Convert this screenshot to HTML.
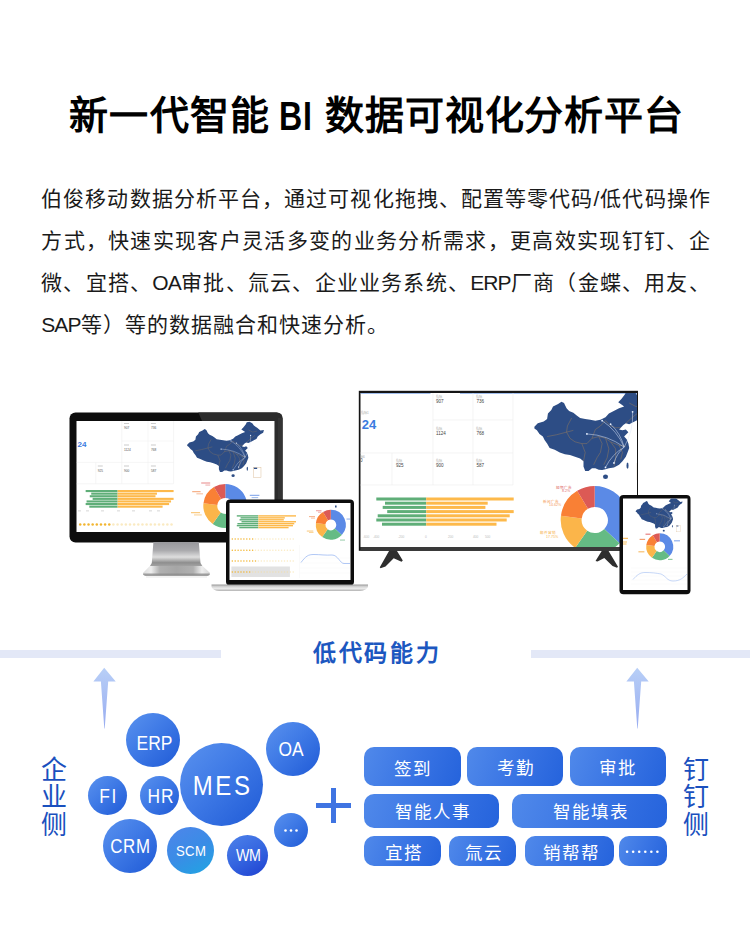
<!DOCTYPE html>
<html lang="zh-CN"><head><meta charset="utf-8">
<style>
*{margin:0;padding:0;box-sizing:border-box}
html,body{width:750px;height:941px;overflow:hidden;background:#fff;font-family:"Liberation Sans",sans-serif}
.abs{position:absolute}
.tt{position:absolute;top:88px;font-size:39px;font-weight:bold;color:#000;line-height:56px;letter-spacing:0.9px;white-space:nowrap}
#para{position:absolute;left:41.2px;top:178.4px;width:669.5px;font-size:21px;line-height:42px;color:#1a1a1a;letter-spacing:1px}
.jl{text-align:justify;text-align-last:justify;white-space:nowrap}
.lt{letter-spacing:-0.9px}
.bub{position:absolute;border-radius:50%;display:flex;align-items:center;justify-content:center;color:#fff;background:linear-gradient(135deg,#5a92ee 0%,#3f7ae6 45%,#1f5ad6 100%)}
.gc{background:linear-gradient(150deg,#4f85ea 0%,#3a8ce6 50%,#1ea6e2 100%)}
.gd{background:linear-gradient(150deg,#4e82ea 0%,#3566e0 50%,#1e3fd0 100%)}
.pill{position:absolute;border-radius:10px;display:flex;align-items:center;justify-content:center;color:#fff;font-weight:500;background:linear-gradient(110deg,#5089ea 0%,#3a75e4 50%,#2563dc 100%)}
.vt{position:absolute;font-size:26px;line-height:27.5px;color:#1a50be;width:30px;text-align:center}
</style></head>
<body>
<div class="tt" style="left:69px;letter-spacing:1.25px">新一代智能</div><div class="tt" style="left:278.8px;top:88px;font-size:41.5px;letter-spacing:1px;transform-origin:0 0;transform:scaleX(0.774)">BI</div><div class="tt" style="left:325px">数据可视化分析平台</div>
<div id="para"><div class="jl">伯俊移动数据分析平台，通过可视化拖拽、配置等零代码/低代码操作</div><div class="jl">方式，快速实现客户灵活多变的业务分析需求，更高效实现钉钉、企</div><div class="jl">微、宜搭、<span class="lt">OA</span>审批、氚云、企业业务系统、<span class="lt">ERP</span>厂商（金蝶、用友、</div><div><span class="lt">SAP</span>等）等的数据融合和快速分析。</div></div>
<svg class="abs" style="left:0;top:0" width="750" height="941" viewBox="0 0 750 941"><rect x="69.5" y="412.5" width="213" height="130" rx="6" fill="#0d0d0d"/><path d="M198.3,412.5 L276.5,412.5 Q282.5,412.5 282.5,418.5 L282.5,536.5 L274.4,536.5 L274.4,421 L202,421 Z" fill="#2c2c2c"/><rect x="278" y="418" width="4.5" height="118" fill="#3a3a3a" opacity="0.6"/><rect x="76.5" y="421" width="198" height="111" fill="#fff"/><defs><linearGradient id="silv" x1="0" y1="0" x2="1" y2="0"><stop offset="0" stop-color="#dcdcdc"/><stop offset="0.12" stop-color="#eeeeee"/><stop offset="0.25" stop-color="#b0b0b0"/><stop offset="0.5" stop-color="#a6a6a6"/><stop offset="0.75" stop-color="#b0b0b0"/><stop offset="0.88" stop-color="#eeeeee"/><stop offset="1" stop-color="#d4d4d4"/></linearGradient><linearGradient id="silvv" x1="0" y1="0" x2="0" y2="1"><stop offset="0" stop-color="#98989c"/><stop offset="0.35" stop-color="#ababae"/><stop offset="0.62" stop-color="#dedede"/><stop offset="0.85" stop-color="#8e8e8e"/><stop offset="1" stop-color="#a4a4a4"/></linearGradient><linearGradient id="base" x1="0" y1="0" x2="0" y2="1"><stop offset="0" stop-color="#9a9a9a"/><stop offset="0.35" stop-color="#d8d8d8"/><stop offset="0.7" stop-color="#eeeeee"/><stop offset="1" stop-color="#9a9a9a"/></linearGradient><clipPath id="tvclip"><rect x="360.5" y="393" width="276.5" height="154"/></clipPath><clipPath id="monclip"><rect x="76.5" y="421" width="198" height="111"/></clipPath><clipPath id="lapclip"><rect x="229.5" y="503" width="121" height="77"/></clipPath><clipPath id="tabclip"><rect x="623" y="498.5" width="64.5" height="91.5"/></clipPath></defs><polygon points="153.4,542 198.8,542 200.5,563 202.5,566.3 149.8,566.3 151.8,563" fill="url(#silvv)"/><path d="M149.8,566 L202.5,566 L209.3,572.3 Q210.8,574 209,575.2 L144,575.2 Q142.2,574 143.7,572.3 Z" fill="url(#silv)"/><path d="M143.2,573.6 L209.6,573.6 Q210.4,575.6 207.5,576 L145.5,576 Q142.6,575.6 143.2,573.6 Z" fill="#8c8c8c" opacity="0.8"/><rect x="146" y="576.2" width="61" height="1.5" fill="#efefef"/><g clip-path="url(#monclip)"><g stroke="#ececec" stroke-width="0.5"><line x1="121.8" y1="421" x2="121.8" y2="483.8"/><line x1="148" y1="421" x2="148" y2="483.8"/><line x1="173.6" y1="421" x2="173.6" y2="483.8"/><line x1="95.8" y1="462.4" x2="95.8" y2="483.8"/><line x1="121.8" y1="441" x2="173.6" y2="441"/><line x1="76.5" y1="462.4" x2="173.6" y2="462.4"/><line x1="76.5" y1="483.8" x2="173.6" y2="483.8"/></g><text x="77.6" y="446.6" font-size="8" font-weight="bold" fill="#3b7be0" font-family="Liberation Sans">24</text><rect x="124" y="423" width="5" height="1" fill="#ccc"/><text x="124" y="429" font-size="3.2" fill="#555" font-family="Liberation Sans">907</text><rect x="150.9" y="423" width="5" height="1" fill="#ccc"/><text x="150.9" y="429" font-size="3.2" fill="#555" font-family="Liberation Sans">736</text><rect x="124" y="444.5" width="5" height="1" fill="#ccc"/><text x="124" y="450.5" font-size="3.2" fill="#555" font-family="Liberation Sans">1124</text><rect x="150.9" y="444.5" width="5" height="1" fill="#ccc"/><text x="150.9" y="450.5" font-size="3.2" fill="#555" font-family="Liberation Sans">768</text><rect x="97.8" y="465.5" width="5" height="1" fill="#ccc"/><text x="97.8" y="471.5" font-size="3.2" fill="#555" font-family="Liberation Sans">925</text><rect x="124" y="465.5" width="5" height="1" fill="#ccc"/><text x="124" y="471.5" font-size="3.2" fill="#555" font-family="Liberation Sans">900</text><rect x="150.9" y="465.5" width="5" height="1" fill="#ccc"/><text x="150.9" y="471.5" font-size="3.2" fill="#555" font-family="Liberation Sans">587</text><polygon points="187.19,444.70 189.37,442.51 193.20,441.42 195.39,439.78 195.93,436.50 198.12,434.31 199.21,432.12 202.49,430.48 204.68,429.06 206.32,429.93 207.96,433.22 209.60,434.86 212.33,435.95 214.52,437.59 216.71,439.23 219.99,439.78 223.27,440.32 226.55,440.87 229.83,440.32 233.11,438.68 235.29,436.50 237.48,435.40 241.85,433.22 245.13,432.12 242.95,430.48 241.31,429.39 243.49,427.20 245.68,424.47 246.77,422.28 249.51,421.73 252.24,423.37 253.88,425.56 257.16,427.75 260.44,430.48 263.94,429.93 263.17,432.67 260.44,434.31 257.71,436.50 256.61,438.68 253.88,440.32 250.60,441.96 248.41,443.06 246.23,442.51 244.59,443.60 242.95,445.24 241.85,446.34 244.04,446.88 246.23,446.34 247.87,447.98 246.23,449.62 245.13,450.71 246.77,452.35 247.87,455.08 248.41,457.82 247.32,460.55 246.23,463.29 244.04,466.02 241.85,468.21 238.57,469.85 235.29,470.39 233.11,470.94 230.92,471.49 228.73,471.27 226.55,470.39 224.36,470.39 222.17,472.03 219.99,472.03 218.89,469.30 218.89,466.02 216.71,464.38 213.43,463.29 210.15,462.19 206.87,461.65 203.59,460.55 200.31,458.91 197.03,457.82 195.39,455.08 193.75,452.90 192.65,450.71 190.47,449.07 188.83,446.88 187.19,445.79" fill="#2d4d85"/><ellipse cx="233.11" cy="475.64" rx="1.64" ry="1.42" fill="#2d4d85"/><ellipse cx="247.32" cy="468.75" rx="0.66" ry="1.97" fill="#2d4d85"/><rect x="253.55" y="467.33" width="7.43" height="10.17" fill="none" stroke="#d8b890" stroke-width="0.44"/><rect x="253.88" y="467.66" width="3.28" height="1.31" fill="#2d4d85"/><polyline points="195.39,450.71 201.40,449.62 207.96,447.98 212.33,446.88" fill="none" stroke="#a08058" stroke-width="0.38" opacity="0.75"/><polyline points="211.24,439.23 208.51,444.15 207.96,447.98 210.15,451.80 213.43,453.99 217.80,455.08 221.08,455.08" fill="none" stroke="#a08058" stroke-width="0.38" opacity="0.75"/><polyline points="217.80,455.08 219.99,460.55 218.89,466.02" fill="none" stroke="#a08058" stroke-width="0.38" opacity="0.75"/><polyline points="221.08,455.08 224.36,451.80 228.73,450.71 233.11,451.80 236.39,453.99 241.85,456.18 246.23,456.72" fill="none" stroke="#a08058" stroke-width="0.38" opacity="0.75"/><polyline points="224.36,451.80 226.55,446.34 229.83,444.15 233.11,440.87" fill="none" stroke="#a08058" stroke-width="0.38" opacity="0.75"/><polyline points="228.73,450.71 230.92,455.08 229.83,460.55 227.64,463.83 225.45,468.21" fill="none" stroke="#a08058" stroke-width="0.38" opacity="0.75"/><polyline points="233.11,451.80 235.29,458.37 234.20,463.83 232.01,468.21" fill="none" stroke="#a08058" stroke-width="0.38" opacity="0.75"/><polyline points="236.39,453.99 239.67,458.37 239.67,463.83 238.57,469.30" fill="none" stroke="#a08058" stroke-width="0.38" opacity="0.75"/><polyline points="241.85,456.18 244.04,460.55 242.95,464.93" fill="none" stroke="#a08058" stroke-width="0.38" opacity="0.75"/><polyline points="233.11,440.87 236.39,444.15 239.67,445.24 242.95,445.24" fill="none" stroke="#a08058" stroke-width="0.38" opacity="0.75"/><polyline points="246.23,442.51 250.60,438.68 254.97,435.40" fill="none" stroke="#a08058" stroke-width="0.38" opacity="0.75"/><polyline points="248.41,429.93 252.79,432.12 257.16,431.03" fill="none" stroke="#a08058" stroke-width="0.38" opacity="0.75"/><path d="M221.08,449.07Q234.34,449.56 245.13,457.27" fill="none" stroke="#dce6f8" stroke-width="0.38" opacity="0.85"/><circle cx="221.08" cy="449.07" r="0.57" fill="#e8f0ff"/><path d="M230.92,440.87Q240.49,446.94 245.13,457.27" fill="none" stroke="#dce6f8" stroke-width="0.38" opacity="0.85"/><circle cx="230.92" cy="440.87" r="0.57" fill="#e8f0ff"/><path d="M236.39,443.06Q242.89,448.85 245.13,457.27" fill="none" stroke="#dce6f8" stroke-width="0.38" opacity="0.85"/><circle cx="236.39" cy="443.06" r="0.57" fill="#e8f0ff"/><path d="M250.60,435.40Q251.15,447.16 245.13,457.27" fill="none" stroke="#dce6f8" stroke-width="0.38" opacity="0.85"/><circle cx="250.60" cy="435.40" r="0.57" fill="#e8f0ff"/><path d="M238.57,467.11Q240.38,461.21 245.13,457.27" fill="none" stroke="#dce6f8" stroke-width="0.38" opacity="0.85"/><circle cx="238.57" cy="467.11" r="0.57" fill="#e8f0ff"/><path d="M233.11,469.85Q237.23,461.76 245.13,457.27" fill="none" stroke="#dce6f8" stroke-width="0.38" opacity="0.85"/><circle cx="233.11" cy="469.85" r="0.57" fill="#e8f0ff"/><rect x="85.66" y="490.00" width="31.94" height="2.1" fill="#5fae78"/><rect x="117.60" y="490.00" width="56.00" height="2.1" fill="#fdb94b"/><rect x="91.23" y="492.60" width="26.37" height="2.1" fill="#5fae78"/><rect x="117.60" y="492.60" width="39.36" height="2.1" fill="#fdb94b"/><rect x="89.76" y="495.20" width="27.84" height="2.1" fill="#5fae78"/><rect x="117.60" y="495.20" width="37.89" height="2.1" fill="#fdb94b"/><rect x="92.64" y="497.80" width="24.96" height="2.1" fill="#5fae78"/><rect x="117.60" y="497.80" width="56.00" height="2.1" fill="#fdb94b"/><rect x="86.56" y="500.40" width="31.04" height="2.1" fill="#5fae78"/><rect x="117.60" y="500.40" width="53.44" height="2.1" fill="#fdb94b"/><rect x="85.66" y="503.00" width="31.94" height="2.1" fill="#5fae78"/><rect x="117.60" y="503.00" width="51.52" height="2.1" fill="#fdb94b"/><rect x="89.31" y="505.60" width="28.29" height="2.1" fill="#5fae78"/><rect x="117.60" y="505.60" width="44.99" height="2.1" fill="#fdb94b"/><rect x="78" y="510.5" width="3" height="0.8" fill="#ccc"/><rect x="86" y="510.5" width="3" height="0.8" fill="#ccc"/><rect x="101" y="510.5" width="3" height="0.8" fill="#ccc"/><rect x="117" y="510.5" width="3" height="0.8" fill="#ccc"/><rect x="132" y="510.5" width="3" height="0.8" fill="#ccc"/><rect x="149" y="510.5" width="3" height="0.8" fill="#ccc"/><rect x="157" y="510.5" width="3" height="0.8" fill="#ccc"/><circle cx="80.20" cy="524.50" r="1.25" fill="#f2b530"/><circle cx="84.35" cy="524.50" r="1.25" fill="#f2b530"/><circle cx="88.50" cy="524.50" r="1.25" fill="#f2b530"/><circle cx="92.65" cy="524.50" r="1.25" fill="#f2b530"/><circle cx="96.80" cy="524.50" r="1.25" fill="#f2b530"/><circle cx="100.95" cy="524.50" r="1.25" fill="#f2b530"/><circle cx="105.10" cy="524.50" r="1.25" fill="#f2b530"/><circle cx="109.25" cy="524.50" r="1.25" fill="#f2b530"/><circle cx="113.40" cy="524.50" r="1.25" fill="#f6dc9a" opacity="0.6"/><circle cx="117.55" cy="524.50" r="1.25" fill="#f6dc9a" opacity="0.6"/><circle cx="121.70" cy="524.50" r="1.25" fill="#f6dc9a" opacity="0.6"/><circle cx="125.85" cy="524.50" r="1.25" fill="#f6dc9a" opacity="0.6"/><circle cx="130.00" cy="524.50" r="1.25" fill="#f6dc9a" opacity="0.6"/><circle cx="134.15" cy="524.50" r="1.25" fill="#f6dc9a" opacity="0.6"/><circle cx="138.30" cy="524.50" r="1.25" fill="#f6dc9a" opacity="0.6"/><circle cx="142.45" cy="524.50" r="1.25" fill="#f6dc9a" opacity="0.6"/><circle cx="146.60" cy="524.50" r="1.25" fill="#f6dc9a" opacity="0.6"/><circle cx="150.75" cy="524.50" r="1.25" fill="#f6dc9a" opacity="0.6"/><circle cx="154.90" cy="524.50" r="1.25" fill="#f6dc9a" opacity="0.6"/><circle cx="159.05" cy="524.50" r="1.25" fill="#f6dc9a" opacity="0.6"/><circle cx="163.20" cy="524.50" r="1.25" fill="#f6dc9a" opacity="0.6"/><circle cx="167.35" cy="524.50" r="1.25" fill="#f6dc9a" opacity="0.6"/><circle cx="171.50" cy="524.50" r="1.25" fill="#f6dc9a" opacity="0.6"/><path d="M225.30,483.90A22,22 0 0 1 241.39,520.90L231.15,511.36A8,8 0 0 0 225.30,497.90Z" fill="#5b8ae6"/><path d="M241.39,520.90A22,22 0 0 1 212.68,523.92L220.71,512.45A8,8 0 0 0 231.15,511.36Z" fill="#65bb84"/><path d="M212.68,523.92A22,22 0 0 1 203.46,503.22L217.36,504.93A8,8 0 0 0 220.71,512.45Z" fill="#fbb54a"/><path d="M203.46,503.22A22,22 0 0 1 213.97,487.04L221.18,499.04A8,8 0 0 0 217.36,504.93Z" fill="#f98035"/><path d="M213.97,487.04A22,22 0 0 1 225.30,483.90L225.30,497.90A8,8 0 0 0 221.18,499.04Z" fill="#dc5a55"/><rect x="201.2" y="482.5" width="9.0" height="1" fill="#e06060" opacity="0.75"/><rect x="205.4" y="484.6" width="4.8" height="0.9" fill="#e06060" opacity="0.6"/><rect x="192.2" y="491.2" width="8.4" height="1" fill="#f08040" opacity="0.75"/><rect x="196.4" y="493.4" width="6.6" height="0.9" fill="#f08040" opacity="0.6"/><rect x="191" y="512.2" width="9.0" height="1" fill="#f5a830" opacity="0.75"/><rect x="194" y="514.5" width="7.8" height="0.9" fill="#f5a830" opacity="0.6"/><rect x="249.8" y="494.8" width="9.6" height="1" fill="#4a7ee0" opacity="0.75"/><rect x="251.6" y="497.2" width="6.6" height="0.9" fill="#4a7ee0" opacity="0.6"/></g><rect x="358.8" y="390.8" width="279.2" height="160" fill="#151515"/><rect x="360.5" y="547" width="276" height="4" fill="#3a3a3a"/><rect x="360.5" y="393" width="276.5" height="154" fill="#fff"/><polygon points="389.3,550.5 396.7,550.5 402.8,560.5 401.5,561.8 393.7,558.3 385.5,566.5 380.5,568.3 379.8,567.3" fill="#2e2e2e"/><polygon points="602,550.5 608.3,550.5 618,566.8 617,567.8 612.5,566 604.3,558 597.5,561.5 595.5,561" fill="#2e2e2e"/><g clip-path="url(#tvclip)"><rect x="360.5" y="393" width="70" height="0.8" fill="#3a78d8" opacity="0.6"/><rect x="460" y="393" width="177" height="0.8" fill="#3a78d8" opacity="0.6"/><g stroke="#ececec" stroke-width="0.6"><line x1="433" y1="393" x2="433" y2="485"/><line x1="473" y1="393" x2="473" y2="485"/><line x1="513" y1="393" x2="513" y2="485"/><line x1="392" y1="453" x2="392" y2="485"/><line x1="433" y1="420" x2="513" y2="420"/><line x1="360" y1="453" x2="513" y2="453"/><line x1="360" y1="485" x2="513" y2="485"/></g><text x="361.8" y="429.2" font-size="13" font-weight="bold" fill="#3b7be0" font-family="Liberation Sans">24</text><text x="361" y="414" font-size="3.2" fill="#aaa" font-family="Liberation Sans">指标1</text><text x="360" y="457.5" font-size="3.2" fill="#aaa" font-family="Liberation Sans">标6</text><text x="360" y="462" font-size="4.6" fill="#444" font-family="Liberation Sans">0</text><text x="436" y="397.5" font-size="3.2" fill="#aaa" font-family="Liberation Sans">指标</text><text x="436" y="402.5" font-size="4.6" fill="#444" font-family="Liberation Sans">907</text><text x="476.4" y="397.5" font-size="3.2" fill="#aaa" font-family="Liberation Sans">指标</text><text x="476.4" y="402.5" font-size="4.6" fill="#444" font-family="Liberation Sans">736</text><text x="436" y="429.5" font-size="3.2" fill="#aaa" font-family="Liberation Sans">指标</text><text x="436" y="434.5" font-size="4.6" fill="#444" font-family="Liberation Sans">1124</text><text x="476.4" y="429.5" font-size="3.2" fill="#aaa" font-family="Liberation Sans">指标</text><text x="476.4" y="434.5" font-size="4.6" fill="#444" font-family="Liberation Sans">768</text><text x="396" y="461.5" font-size="3.2" fill="#aaa" font-family="Liberation Sans">指标</text><text x="396" y="466.5" font-size="4.6" fill="#444" font-family="Liberation Sans">925</text><text x="436" y="461.5" font-size="3.2" fill="#aaa" font-family="Liberation Sans">指标</text><text x="436" y="466.5" font-size="4.6" fill="#444" font-family="Liberation Sans">900</text><text x="476.4" y="461.5" font-size="3.2" fill="#aaa" font-family="Liberation Sans">指标</text><text x="476.4" y="466.5" font-size="4.6" fill="#444" font-family="Liberation Sans">587</text><polygon points="534.39,426.85 537.77,423.32 543.70,421.56 547.09,418.91 547.93,413.62 551.32,410.09 553.01,406.56 558.09,403.92 561.48,401.63 564.02,403.04 566.56,408.33 569.10,410.97 573.33,412.74 576.72,415.38 580.11,418.03 585.19,418.91 590.27,419.79 595.35,420.67 600.43,419.79 605.51,417.15 608.89,413.62 612.28,411.86 619.05,408.33 624.13,406.56 620.75,403.92 618.21,402.15 621.59,398.63 624.98,394.22 626.67,390.69 630.91,389.81 635.14,392.45 637.68,395.98 642.76,399.51 647.84,403.92 653.26,403.04 652.07,407.45 647.84,410.09 643.61,413.62 641.91,417.15 637.68,419.79 632.60,422.44 629.21,424.20 625.83,423.32 623.29,425.08 620.75,427.73 619.05,429.49 622.44,430.37 625.83,429.49 628.37,432.14 625.83,434.78 624.13,436.55 626.67,439.19 628.37,443.60 629.21,448.01 627.52,452.42 625.83,456.83 622.44,461.24 619.05,464.77 613.97,467.41 608.89,468.29 605.51,469.17 602.12,470.06 598.73,469.70 595.35,468.29 591.96,468.29 588.57,470.94 585.19,470.94 583.49,466.53 583.49,461.24 580.11,458.59 575.03,456.83 569.95,455.06 564.87,454.18 559.79,452.42 554.71,449.77 549.63,448.01 547.09,443.60 544.55,440.07 542.85,436.55 539.47,433.90 536.93,430.37 534.39,428.61" fill="#2d4d85"/><ellipse cx="605.51" cy="476.76" rx="2.54" ry="2.29" fill="#2d4d85"/><ellipse cx="627.52" cy="465.65" rx="1.02" ry="3.17" fill="#2d4d85"/><rect x="637.17" y="463.35" width="11.51" height="16.40" fill="none" stroke="#d8b890" stroke-width="0.68"/><rect x="637.68" y="463.88" width="5.08" height="2.12" fill="#2d4d85"/><polyline points="547.09,436.55 556.40,434.78 566.56,432.14 573.33,430.37" fill="none" stroke="#a08058" stroke-width="0.59" opacity="0.75"/><polyline points="571.64,418.03 567.41,425.96 566.56,432.14 569.95,438.31 575.03,441.84 581.80,443.60 586.88,443.60" fill="none" stroke="#a08058" stroke-width="0.59" opacity="0.75"/><polyline points="581.80,443.60 585.19,452.42 583.49,461.24" fill="none" stroke="#a08058" stroke-width="0.59" opacity="0.75"/><polyline points="586.88,443.60 591.96,438.31 598.73,436.55 605.51,438.31 610.59,441.84 619.05,445.36 625.83,446.25" fill="none" stroke="#a08058" stroke-width="0.59" opacity="0.75"/><polyline points="591.96,438.31 595.35,429.49 600.43,425.96 605.51,420.67" fill="none" stroke="#a08058" stroke-width="0.59" opacity="0.75"/><polyline points="598.73,436.55 602.12,443.60 600.43,452.42 597.04,457.71 593.65,464.77" fill="none" stroke="#a08058" stroke-width="0.59" opacity="0.75"/><polyline points="605.51,438.31 608.89,448.89 607.20,457.71 603.81,464.77" fill="none" stroke="#a08058" stroke-width="0.59" opacity="0.75"/><polyline points="610.59,441.84 615.67,448.89 615.67,457.71 613.97,466.53" fill="none" stroke="#a08058" stroke-width="0.59" opacity="0.75"/><polyline points="619.05,445.36 622.44,452.42 620.75,459.47" fill="none" stroke="#a08058" stroke-width="0.59" opacity="0.75"/><polyline points="605.51,420.67 610.59,425.96 615.67,427.73 620.75,427.73" fill="none" stroke="#a08058" stroke-width="0.59" opacity="0.75"/><polyline points="625.83,423.32 632.60,417.15 639.37,411.86" fill="none" stroke="#a08058" stroke-width="0.59" opacity="0.75"/><polyline points="629.21,403.04 635.99,406.56 642.76,404.80" fill="none" stroke="#a08058" stroke-width="0.59" opacity="0.75"/><path d="M586.88,433.90Q607.49,434.93 624.13,447.13" fill="none" stroke="#dce6f8" stroke-width="0.59" opacity="0.85"/><circle cx="586.88" cy="433.90" r="0.89" fill="#e8f0ff"/><path d="M602.12,420.67Q617.09,430.60 624.13,447.13" fill="none" stroke="#dce6f8" stroke-width="0.59" opacity="0.85"/><circle cx="602.12" cy="420.67" r="0.89" fill="#e8f0ff"/><path d="M610.59,424.20Q620.80,433.63 624.13,447.13" fill="none" stroke="#dce6f8" stroke-width="0.59" opacity="0.85"/><circle cx="610.59" cy="424.20" r="0.89" fill="#e8f0ff"/><path d="M632.60,411.86Q633.66,430.76 624.13,447.13" fill="none" stroke="#dce6f8" stroke-width="0.59" opacity="0.85"/><circle cx="632.60" cy="411.86" r="0.89" fill="#e8f0ff"/><path d="M613.97,463.00Q616.67,453.54 624.13,447.13" fill="none" stroke="#dce6f8" stroke-width="0.59" opacity="0.85"/><circle cx="613.97" cy="463.00" r="0.89" fill="#e8f0ff"/><path d="M605.51,467.41Q611.78,454.48 624.13,447.13" fill="none" stroke="#dce6f8" stroke-width="0.59" opacity="0.85"/><circle cx="605.51" cy="467.41" r="0.89" fill="#e8f0ff"/><rect x="376.30" y="497.50" width="49.90" height="3" fill="#5fae78"/><rect x="426.20" y="497.50" width="87.50" height="3" fill="#fdb94b"/><rect x="385.00" y="501.70" width="41.20" height="3" fill="#5fae78"/><rect x="426.20" y="501.70" width="61.50" height="3" fill="#fdb94b"/><rect x="382.70" y="505.90" width="43.50" height="3" fill="#5fae78"/><rect x="426.20" y="505.90" width="59.20" height="3" fill="#fdb94b"/><rect x="387.20" y="510.10" width="39.00" height="3" fill="#5fae78"/><rect x="426.20" y="510.10" width="87.50" height="3" fill="#fdb94b"/><rect x="377.70" y="514.30" width="48.50" height="3" fill="#5fae78"/><rect x="426.20" y="514.30" width="83.50" height="3" fill="#fdb94b"/><rect x="376.30" y="518.50" width="49.90" height="3" fill="#5fae78"/><rect x="426.20" y="518.50" width="80.50" height="3" fill="#fdb94b"/><rect x="382.00" y="522.70" width="44.20" height="3" fill="#5fae78"/><rect x="426.20" y="522.70" width="70.30" height="3" fill="#fdb94b"/><text x="363" y="537.5" font-size="3.2" fill="#bbb" font-family="Liberation Sans">-600</text><text x="373" y="537.5" font-size="3.2" fill="#bbb" font-family="Liberation Sans">-400</text><text x="398" y="537.5" font-size="3.2" fill="#bbb" font-family="Liberation Sans">-200</text><text x="425" y="537.5" font-size="3.2" fill="#bbb" font-family="Liberation Sans">0</text><text x="448" y="537.5" font-size="3.2" fill="#bbb" font-family="Liberation Sans">200</text><text x="473" y="537.5" font-size="3.2" fill="#bbb" font-family="Liberation Sans">400</text><text x="485" y="537.5" font-size="3.2" fill="#bbb" font-family="Liberation Sans">500</text><path d="M594.70,486.00A34,34 0 0 1 619.57,543.19L604.28,528.93A13.1,13.1 0 0 0 594.70,506.90Z" fill="#5b8ae6"/><path d="M619.57,543.19A34,34 0 0 1 575.20,547.85L587.19,530.73A13.1,13.1 0 0 0 604.28,528.93Z" fill="#65bb84"/><path d="M575.20,547.85A34,34 0 0 1 560.95,515.86L581.70,518.40A13.1,13.1 0 0 0 587.19,530.73Z" fill="#fbb54a"/><path d="M560.95,515.86A34,34 0 0 1 577.19,490.86L587.95,508.77A13.1,13.1 0 0 0 581.70,518.40Z" fill="#f98035"/><path d="M577.19,490.86A34,34 0 0 1 594.70,486.00L594.70,506.90A13.1,13.1 0 0 0 587.95,508.77Z" fill="#dc5a55"/><text x="556" y="488.5" font-size="3.6" fill="#e06a6a" font-family="Liberation Sans">短期广告</text><text x="562" y="492" font-size="3.6" fill="#e06a6a" font-family="Liberation Sans">8.2%</text><text x="543" y="502.5" font-size="3.6" fill="#f49a5a" font-family="Liberation Sans">新闻广告</text><text x="549" y="506" font-size="3.6" fill="#f49a5a" font-family="Liberation Sans">14.62%</text><text x="540" y="534" font-size="3.6" fill="#f6b24a" font-family="Liberation Sans">邮件营销</text><text x="546" y="537.5" font-size="3.6" fill="#f6b24a" font-family="Liberation Sans">17.75%</text></g><rect x="226" y="499.6" width="128" height="86" rx="4" fill="#0d0d0d"/><rect x="229.5" y="503" width="121" height="77" fill="#fff"/><path d="M211.5,584.6 L368,584.6 L368,587 Q366,590.5 360,590.8 L219,590.8 Q213,590.5 211.5,587 Z" fill="url(#base)"/><g clip-path="url(#lapclip)"><rect x="236.80" y="515.20" width="21.50" height="1.4" fill="#5fae78"/><rect x="258.30" y="515.20" width="37.70" height="1.4" fill="#fdb94b"/><rect x="240.55" y="517.15" width="17.75" height="1.4" fill="#5fae78"/><rect x="258.30" y="517.15" width="26.50" height="1.4" fill="#fdb94b"/><rect x="239.56" y="519.10" width="18.74" height="1.4" fill="#5fae78"/><rect x="258.30" y="519.10" width="25.51" height="1.4" fill="#fdb94b"/><rect x="241.50" y="521.05" width="16.80" height="1.4" fill="#5fae78"/><rect x="258.30" y="521.05" width="37.70" height="1.4" fill="#fdb94b"/><rect x="237.40" y="523.00" width="20.90" height="1.4" fill="#5fae78"/><rect x="258.30" y="523.00" width="35.98" height="1.4" fill="#fdb94b"/><rect x="236.80" y="524.95" width="21.50" height="1.4" fill="#5fae78"/><rect x="258.30" y="524.95" width="34.68" height="1.4" fill="#fdb94b"/><rect x="239.26" y="526.90" width="19.04" height="1.4" fill="#5fae78"/><rect x="258.30" y="526.90" width="30.29" height="1.4" fill="#fdb94b"/><circle cx="232.30" cy="539.10" r="0.75" fill="#f2b530"/><circle cx="235.20" cy="539.10" r="0.75" fill="#f2b530"/><circle cx="238.10" cy="539.10" r="0.75" fill="#f2b530"/><circle cx="241.00" cy="539.10" r="0.75" fill="#f2b530"/><circle cx="243.90" cy="539.10" r="0.75" fill="#f2b530"/><circle cx="246.80" cy="539.10" r="0.75" fill="#f2b530"/><circle cx="249.70" cy="539.10" r="0.75" fill="#f2b530"/><circle cx="252.60" cy="539.10" r="0.75" fill="#f2b530"/><circle cx="255.50" cy="539.10" r="0.75" fill="#f6dc9a" opacity="0.6"/><circle cx="258.40" cy="539.10" r="0.75" fill="#f6dc9a" opacity="0.6"/><circle cx="261.30" cy="539.10" r="0.75" fill="#f6dc9a" opacity="0.6"/><circle cx="264.20" cy="539.10" r="0.75" fill="#f6dc9a" opacity="0.6"/><circle cx="267.10" cy="539.10" r="0.75" fill="#f6dc9a" opacity="0.6"/><circle cx="270.00" cy="539.10" r="0.75" fill="#f6dc9a" opacity="0.6"/><circle cx="272.90" cy="539.10" r="0.75" fill="#f6dc9a" opacity="0.6"/><circle cx="275.80" cy="539.10" r="0.75" fill="#f6dc9a" opacity="0.6"/><circle cx="278.70" cy="539.10" r="0.75" fill="#f6dc9a" opacity="0.6"/><circle cx="281.60" cy="539.10" r="0.75" fill="#f6dc9a" opacity="0.6"/><circle cx="284.50" cy="539.10" r="0.75" fill="#f6dc9a" opacity="0.6"/><circle cx="287.40" cy="539.10" r="0.75" fill="#f6dc9a" opacity="0.6"/><circle cx="290.30" cy="539.10" r="0.75" fill="#f6dc9a" opacity="0.6"/><circle cx="293.20" cy="539.10" r="0.75" fill="#f6dc9a" opacity="0.6"/><circle cx="232.30" cy="550.20" r="0.75" fill="#f2b530"/><circle cx="235.20" cy="550.20" r="0.75" fill="#f2b530"/><circle cx="238.10" cy="550.20" r="0.75" fill="#f2b530"/><circle cx="241.00" cy="550.20" r="0.75" fill="#f2b530"/><circle cx="243.90" cy="550.20" r="0.75" fill="#f2b530"/><circle cx="246.80" cy="550.20" r="0.75" fill="#f2b530"/><circle cx="249.70" cy="550.20" r="0.75" fill="#f2b530"/><circle cx="252.60" cy="550.20" r="0.75" fill="#f2b530"/><circle cx="255.50" cy="550.20" r="0.75" fill="#f6dc9a" opacity="0.6"/><circle cx="258.40" cy="550.20" r="0.75" fill="#f6dc9a" opacity="0.6"/><circle cx="261.30" cy="550.20" r="0.75" fill="#f6dc9a" opacity="0.6"/><circle cx="264.20" cy="550.20" r="0.75" fill="#f6dc9a" opacity="0.6"/><circle cx="267.10" cy="550.20" r="0.75" fill="#f6dc9a" opacity="0.6"/><circle cx="270.00" cy="550.20" r="0.75" fill="#f6dc9a" opacity="0.6"/><circle cx="272.90" cy="550.20" r="0.75" fill="#f6dc9a" opacity="0.6"/><circle cx="275.80" cy="550.20" r="0.75" fill="#f6dc9a" opacity="0.6"/><circle cx="278.70" cy="550.20" r="0.75" fill="#f6dc9a" opacity="0.6"/><circle cx="281.60" cy="550.20" r="0.75" fill="#f6dc9a" opacity="0.6"/><circle cx="284.50" cy="550.20" r="0.75" fill="#f6dc9a" opacity="0.6"/><circle cx="287.40" cy="550.20" r="0.75" fill="#f6dc9a" opacity="0.6"/><circle cx="290.30" cy="550.20" r="0.75" fill="#f6dc9a" opacity="0.6"/><circle cx="293.20" cy="550.20" r="0.75" fill="#f6dc9a" opacity="0.6"/><circle cx="232.30" cy="561.00" r="0.75" fill="#f2b530"/><circle cx="235.20" cy="561.00" r="0.75" fill="#f2b530"/><circle cx="238.10" cy="561.00" r="0.75" fill="#f2b530"/><circle cx="241.00" cy="561.00" r="0.75" fill="#f2b530"/><circle cx="243.90" cy="561.00" r="0.75" fill="#f2b530"/><circle cx="246.80" cy="561.00" r="0.75" fill="#f2b530"/><circle cx="249.70" cy="561.00" r="0.75" fill="#f2b530"/><circle cx="252.60" cy="561.00" r="0.75" fill="#f2b530"/><circle cx="255.50" cy="561.00" r="0.75" fill="#f2b530"/><circle cx="258.40" cy="561.00" r="0.75" fill="#f6dc9a" opacity="0.6"/><circle cx="261.30" cy="561.00" r="0.75" fill="#f6dc9a" opacity="0.6"/><circle cx="264.20" cy="561.00" r="0.75" fill="#f6dc9a" opacity="0.6"/><circle cx="267.10" cy="561.00" r="0.75" fill="#f6dc9a" opacity="0.6"/><circle cx="270.00" cy="561.00" r="0.75" fill="#f6dc9a" opacity="0.6"/><circle cx="272.90" cy="561.00" r="0.75" fill="#f6dc9a" opacity="0.6"/><circle cx="275.80" cy="561.00" r="0.75" fill="#f6dc9a" opacity="0.6"/><circle cx="278.70" cy="561.00" r="0.75" fill="#f6dc9a" opacity="0.6"/><circle cx="281.60" cy="561.00" r="0.75" fill="#f6dc9a" opacity="0.6"/><circle cx="284.50" cy="561.00" r="0.75" fill="#f6dc9a" opacity="0.6"/><circle cx="287.40" cy="561.00" r="0.75" fill="#f6dc9a" opacity="0.6"/><circle cx="290.30" cy="561.00" r="0.75" fill="#f6dc9a" opacity="0.6"/><circle cx="293.20" cy="561.00" r="0.75" fill="#f6dc9a" opacity="0.6"/><rect x="231.4" y="566.5" width="58.5" height="10.5" fill="#e2e2e2"/><circle cx="232.30" cy="572.00" r="0.75" fill="#f2b530"/><circle cx="235.20" cy="572.00" r="0.75" fill="#f2b530"/><circle cx="238.10" cy="572.00" r="0.75" fill="#f2b530"/><circle cx="241.00" cy="572.00" r="0.75" fill="#f2b530"/><circle cx="243.90" cy="572.00" r="0.75" fill="#f2b530"/><circle cx="246.80" cy="572.00" r="0.75" fill="#f2b530"/><circle cx="249.70" cy="572.00" r="0.75" fill="#f2b530"/><circle cx="252.60" cy="572.00" r="0.75" fill="#f6dc9a" opacity="0.6"/><circle cx="255.50" cy="572.00" r="0.75" fill="#f6dc9a" opacity="0.6"/><circle cx="258.40" cy="572.00" r="0.75" fill="#f6dc9a" opacity="0.6"/><circle cx="261.30" cy="572.00" r="0.75" fill="#f6dc9a" opacity="0.6"/><circle cx="264.20" cy="572.00" r="0.75" fill="#f6dc9a" opacity="0.6"/><circle cx="267.10" cy="572.00" r="0.75" fill="#f6dc9a" opacity="0.6"/><circle cx="270.00" cy="572.00" r="0.75" fill="#f6dc9a" opacity="0.6"/><circle cx="272.90" cy="572.00" r="0.75" fill="#f6dc9a" opacity="0.6"/><circle cx="275.80" cy="572.00" r="0.75" fill="#f6dc9a" opacity="0.6"/><circle cx="278.70" cy="572.00" r="0.75" fill="#f6dc9a" opacity="0.6"/><circle cx="281.60" cy="572.00" r="0.75" fill="#f6dc9a" opacity="0.6"/><circle cx="284.50" cy="572.00" r="0.75" fill="#f6dc9a" opacity="0.6"/><circle cx="287.40" cy="572.00" r="0.75" fill="#f6dc9a" opacity="0.6"/><circle cx="290.30" cy="572.00" r="0.75" fill="#f6dc9a" opacity="0.6"/><circle cx="293.20" cy="572.00" r="0.75" fill="#f6dc9a" opacity="0.6"/><path d="M330.80,509.80A15,15 0 0 1 341.77,535.03L334.75,528.48A5.4,5.4 0 0 0 330.80,519.40Z" fill="#5b8ae6"/><path d="M341.77,535.03A15,15 0 0 1 322.20,537.09L327.70,529.22A5.4,5.4 0 0 0 334.75,528.48Z" fill="#65bb84"/><path d="M322.20,537.09A15,15 0 0 1 315.91,522.97L325.44,524.14A5.4,5.4 0 0 0 327.70,529.22Z" fill="#fbb54a"/><path d="M315.91,522.97A15,15 0 0 1 323.07,511.94L328.02,520.17A5.4,5.4 0 0 0 325.44,524.14Z" fill="#f98035"/><path d="M323.07,511.94A15,15 0 0 1 330.80,509.80L330.80,519.40A5.4,5.4 0 0 0 328.02,520.17Z" fill="#dc5a55"/><rect x="316" y="510.3" width="5.5" height="0.9" fill="#e06060" opacity="0.7"/><rect x="318" y="511.8" width="3.5" height="0.8" fill="#e06060" opacity="0.6"/><rect x="309" y="516.2" width="6" height="0.9" fill="#f08040" opacity="0.7"/><rect x="311" y="517.7" width="4" height="0.8" fill="#f08040" opacity="0.6"/><rect x="306.8" y="530.6" width="6.5" height="0.9" fill="#f5a830" opacity="0.7"/><rect x="309" y="532.1" width="4.5" height="0.8" fill="#f5a830" opacity="0.6"/><rect x="346.5" y="518.6" width="4" height="0.9" fill="#4a7ee0" opacity="0.7"/><rect x="340" y="539.6" width="5" height="0.9" fill="#5aae78" opacity="0.7"/><rect x="335" y="505.5" width="1.6" height="2" fill="#2d4d85"/><g stroke="#eee" stroke-width="0.3"><line x1="300" y1="558" x2="350" y2="558"/><line x1="300" y1="563" x2="350" y2="563"/><line x1="300" y1="568" x2="350" y2="568"/><line x1="300" y1="573" x2="350" y2="573"/><line x1="299.5" y1="545" x2="299.5" y2="578"/></g><path d="M301,562.5 C306,556 308,554.5 314,554.5 C320,554.5 326,555.5 332,555 C338,555 340,563.5 344,563.5 L350,563.5" fill="none" stroke="#8fb0f0" stroke-width="0.7"/></g><rect x="619.5" y="495" width="71" height="99.3" rx="4" fill="#0d0d0d"/><rect x="623" y="498.5" width="64.5" height="91.5" fill="#fff"/><g clip-path="url(#tabclip)"><polygon points="635.73,510.97 637.07,509.58 639.40,508.88 640.73,507.84 641.07,505.75 642.40,504.35 643.07,502.96 645.07,501.91 646.40,501.01 647.40,501.57 648.40,503.66 649.40,504.70 651.07,505.40 652.40,506.44 653.73,507.49 655.73,507.84 657.73,508.18 659.73,508.53 661.73,508.18 663.73,507.14 665.07,505.75 666.40,505.05 669.07,503.66 671.07,502.96 669.73,501.91 668.73,501.22 670.07,499.82 671.40,498.08 672.07,496.69 673.73,496.34 675.40,497.39 676.40,498.78 678.40,500.17 680.40,501.91 682.53,501.57 682.07,503.31 680.40,504.35 678.73,505.75 678.07,507.14 676.40,508.18 674.40,509.23 673.07,509.93 671.73,509.58 670.73,510.27 669.73,511.32 669.07,512.02 670.40,512.36 671.73,512.02 672.73,513.06 671.73,514.11 671.07,514.80 672.07,515.85 672.73,517.59 673.07,519.33 672.40,521.07 671.73,522.81 670.40,524.56 669.07,525.95 667.07,526.99 665.07,527.34 663.73,527.69 662.40,528.04 661.07,527.90 659.73,527.34 658.40,527.34 657.07,528.39 655.73,528.39 655.07,526.65 655.07,524.56 653.73,523.51 651.73,522.81 649.73,522.12 647.73,521.77 645.73,521.07 643.73,520.03 641.73,519.33 640.73,517.59 639.73,516.20 639.07,514.80 637.73,513.76 636.73,512.36 635.73,511.67" fill="#2d4d85"/><ellipse cx="663.73" cy="530.69" rx="1.00" ry="0.91" fill="#2d4d85"/><ellipse cx="672.40" cy="526.30" rx="0.40" ry="1.25" fill="#2d4d85"/><rect x="676.20" y="525.39" width="4.53" height="6.48" fill="none" stroke="#d8b890" stroke-width="0.27"/><rect x="676.40" y="525.60" width="2.00" height="0.84" fill="#2d4d85"/><polyline points="640.73,514.80 644.40,514.11 648.40,513.06 651.07,512.36" fill="none" stroke="#a08058" stroke-width="0.25" opacity="0.75"/><polyline points="650.40,507.49 648.73,510.62 648.40,513.06 649.73,515.50 651.73,516.89 654.40,517.59 656.40,517.59" fill="none" stroke="#a08058" stroke-width="0.25" opacity="0.75"/><polyline points="654.40,517.59 655.73,521.07 655.07,524.56" fill="none" stroke="#a08058" stroke-width="0.25" opacity="0.75"/><polyline points="656.40,517.59 658.40,515.50 661.07,514.80 663.73,515.50 665.73,516.89 669.07,518.29 671.73,518.63" fill="none" stroke="#a08058" stroke-width="0.25" opacity="0.75"/><polyline points="658.40,515.50 659.73,512.02 661.73,510.62 663.73,508.53" fill="none" stroke="#a08058" stroke-width="0.25" opacity="0.75"/><polyline points="661.07,514.80 662.40,517.59 661.73,521.07 660.40,523.16 659.07,525.95" fill="none" stroke="#a08058" stroke-width="0.25" opacity="0.75"/><polyline points="663.73,515.50 665.07,519.68 664.40,523.16 663.07,525.95" fill="none" stroke="#a08058" stroke-width="0.25" opacity="0.75"/><polyline points="665.73,516.89 667.73,519.68 667.73,523.16 667.07,526.65" fill="none" stroke="#a08058" stroke-width="0.25" opacity="0.75"/><polyline points="669.07,518.29 670.40,521.07 669.73,523.86" fill="none" stroke="#a08058" stroke-width="0.25" opacity="0.75"/><polyline points="663.73,508.53 665.73,510.62 667.73,511.32 669.73,511.32" fill="none" stroke="#a08058" stroke-width="0.25" opacity="0.75"/><polyline points="671.73,509.58 674.40,507.14 677.07,505.05" fill="none" stroke="#a08058" stroke-width="0.25" opacity="0.75"/><polyline points="673.07,501.57 675.73,502.96 678.40,502.26" fill="none" stroke="#a08058" stroke-width="0.25" opacity="0.75"/><path d="M656.40,513.76Q664.52,514.17 671.07,518.98" fill="none" stroke="#dce6f8" stroke-width="0.25" opacity="0.85"/><circle cx="656.40" cy="513.76" r="0.38" fill="#e8f0ff"/><path d="M662.40,508.53Q668.30,512.46 671.07,518.98" fill="none" stroke="#dce6f8" stroke-width="0.25" opacity="0.85"/><circle cx="662.40" cy="508.53" r="0.38" fill="#e8f0ff"/><path d="M665.73,509.93Q669.76,513.65 671.07,518.98" fill="none" stroke="#dce6f8" stroke-width="0.25" opacity="0.85"/><circle cx="665.73" cy="509.93" r="0.38" fill="#e8f0ff"/><path d="M674.40,505.05Q674.82,512.52 671.07,518.98" fill="none" stroke="#dce6f8" stroke-width="0.25" opacity="0.85"/><circle cx="674.40" cy="505.05" r="0.38" fill="#e8f0ff"/><path d="M667.07,525.25Q668.13,521.52 671.07,518.98" fill="none" stroke="#dce6f8" stroke-width="0.25" opacity="0.85"/><circle cx="667.07" cy="525.25" r="0.38" fill="#e8f0ff"/><path d="M663.73,526.99Q666.20,521.89 671.07,518.98" fill="none" stroke="#dce6f8" stroke-width="0.25" opacity="0.85"/><circle cx="663.73" cy="526.99" r="0.38" fill="#e8f0ff"/><path d="M659.70,533.20A13.5,13.5 0 0 1 669.57,555.91L663.58,550.31A5.3,5.3 0 0 0 659.70,541.40Z" fill="#5b8ae6"/><path d="M669.57,555.91A13.5,13.5 0 0 1 651.96,557.76L656.66,551.04A5.3,5.3 0 0 0 663.58,550.31Z" fill="#65bb84"/><path d="M651.96,557.76A13.5,13.5 0 0 1 646.30,545.05L654.44,546.05A5.3,5.3 0 0 0 656.66,551.04Z" fill="#fbb54a"/><path d="M646.30,545.05A13.5,13.5 0 0 1 652.75,535.13L656.97,542.16A5.3,5.3 0 0 0 654.44,546.05Z" fill="#f98035"/><path d="M652.75,535.13A13.5,13.5 0 0 1 659.70,533.20L659.70,541.40A5.3,5.3 0 0 0 656.97,542.16Z" fill="#dc5a55"/><rect x="645.5" y="533.6" width="5" height="1.2" fill="#e88080"/><rect x="639.6" y="538.8" width="5.5" height="1.2" fill="#f4a070"/><rect x="638.4" y="551.2" width="6" height="1.2" fill="#f8c070"/><rect x="674" y="540.2" width="6" height="1.2" fill="#8fb0ee"/><rect x="668" y="558.8" width="4.5" height="1.2" fill="#8fcca0"/><rect x="623" y="537.8" width="5" height="1" fill="#f8b040"/><rect x="623" y="541.5" width="4" height="1" fill="#f8c060"/><rect x="623" y="543.5" width="3.5" height="1" fill="#f8c060"/><g stroke="#f0f0f0" stroke-width="0.3"><line x1="631" y1="568" x2="687" y2="568"/><line x1="631" y1="572" x2="687" y2="572"/><line x1="631" y1="576" x2="687" y2="576"/><line x1="631" y1="580" x2="687" y2="580"/><line x1="631" y1="584" x2="687" y2="584"/></g><path d="M633,579.5 C637,575 640,572.5 645,572.5 C651,572.5 656,573 661,574 C666,576 667,581 673,581 C680,581 683,578 687,574" fill="none" stroke="#8fb0f0" stroke-width="0.5"/></g></svg>

<div class="abs" style="left:0;top:650px;width:221px;height:8px;background:#e3e8f7"></div>
<div class="abs" style="left:530.8px;top:650px;width:220px;height:8px;background:#e3e8f7"></div>
<div class="abs" style="left:1px;top:636px;width:750px;text-align:center;font-size:23px;font-weight:bold;color:#1c57c0;letter-spacing:2.6px;text-indent:2.6px;line-height:34px">低代码能力</div>
<svg class="abs" style="left:91.6px;top:666px" width="24" height="66" viewBox="0 0 24 66"><defs><linearGradient id="ag103" x1="0" y1="0" x2="0" y2="1"><stop offset="0" stop-color="#b8cff7"/><stop offset="1" stop-color="#98acf0"/></linearGradient></defs><path d="M12.2,1.8 L23.7,15.6 L16.2,15.6 L12.7,62.6 L12.3,62.6 L8.9,15.6 L1.4,15.6 Z" fill="url(#ag103)"/></svg><svg class="abs" style="left:625.3px;top:666px" width="24" height="66" viewBox="0 0 24 66"><defs><linearGradient id="ag637" x1="0" y1="0" x2="0" y2="1"><stop offset="0" stop-color="#b8cff7"/><stop offset="1" stop-color="#98acf0"/></linearGradient></defs><path d="M12.2,1.8 L23.7,15.6 L16.2,15.6 L12.7,62.6 L12.3,62.6 L8.9,15.6 L1.4,15.6 Z" fill="url(#ag637)"/></svg>
<div class="vt" style="left:38.5px;top:756.5px;">企<br>业<br>侧</div>
<div class="vt" style="left:681px;top:756.5px;">钉<br>钉<br>侧</div>
<div class="bub gb" style="left:126.0px;top:713.0px;width:54.0px;height:54.0px;"><span style="font-size:19px;letter-spacing:1px;margin-right:-1px"></span></div><div class="bub gb" style="left:266.1px;top:721.9px;width:53.8px;height:53.8px;"><span style="font-size:19px;letter-spacing:1px;margin-right:-1px"></span></div><div class="bub gb" style="left:87.9px;top:775.9px;width:39.2px;height:39.2px;"><span style="font-size:18px;letter-spacing:1px;margin-right:-1px"></span></div><div class="bub gb" style="left:140.1px;top:776.0px;width:39.0px;height:39.0px;"><span style="font-size:18px;letter-spacing:1.5px;margin-right:-1.5px"></span></div><div class="bub gb" style="left:180.2px;top:743.0px;width:82.8px;height:82.8px;"><span style="font-size:27px;letter-spacing:3px;margin-right:-3px"></span></div><div class="bub gb" style="left:103.0px;top:819.0px;width:54.0px;height:54.0px;"><span style="font-size:19px;letter-spacing:1px;margin-right:-1px"></span></div><div class="bub gc" style="left:167.1px;top:827.1px;width:47.0px;height:47.0px;"><span style="font-size:15px;letter-spacing:1px;margin-right:-1px"></span></div><div class="bub gd" style="left:227.1px;top:835.1px;width:41.0px;height:41.0px;"><span style="font-size:16px;letter-spacing:0px;margin-right:-0px"></span></div><div class="bub gb" style="left:274.0px;top:813.0px;width:34.0px;height:34.0px;"><span style="font-size:14px;letter-spacing:1px;margin-right:-1px"></span></div><svg class="abs" style="left:0;top:0" width="750" height="941"><text transform="translate(136.60,750.00) scale(0.86,1)" x="0" y="0" font-size="20.35" textLength="41.59" lengthAdjust="spacing" fill="#fff" font-family="Liberation Sans">ERP</text><text transform="translate(278.60,755.90) scale(0.86,1)" x="0" y="0" font-size="20.20" textLength="29.12" lengthAdjust="spacing" fill="#fff" font-family="Liberation Sans">OA</text><text transform="translate(99.20,802.60) scale(0.86,1)" x="0" y="0" font-size="20.20" textLength="19.84" lengthAdjust="spacing" fill="#fff" font-family="Liberation Sans">FI</text><text transform="translate(147.60,802.60) scale(0.86,1)" x="0" y="0" font-size="20.20" textLength="30.06" lengthAdjust="spacing" fill="#fff" font-family="Liberation Sans">HR</text><text transform="translate(192.80,795.20) scale(0.86,1)" x="0" y="0" font-size="27.91" textLength="66.42" lengthAdjust="spacing" fill="#fff" font-family="Liberation Sans">MES</text><text transform="translate(110.20,853.00) scale(0.86,1)" x="0" y="0" font-size="19.62" textLength="46.34" lengthAdjust="spacing" fill="#fff" font-family="Liberation Sans">CRM</text><text transform="translate(176.00,856.00) scale(0.86,1)" x="0" y="0" font-size="15.26" textLength="34.81" lengthAdjust="spacing" fill="#fff" font-family="Liberation Sans">SCM</text><text transform="translate(236.00,861.40) scale(0.86,1)" x="0" y="0" font-size="16.57" textLength="28.94" lengthAdjust="spacing" fill="#fff" font-family="Liberation Sans">WM</text><circle cx="285.50" cy="830.5" r="1.3" fill="#fff"/><circle cx="291.00" cy="830.5" r="1.3" fill="#fff"/><circle cx="296.50" cy="830.5" r="1.3" fill="#fff"/></svg>
<div class="abs" style="left:316.2px;top:803px;width:34.4px;height:4.6px;background:#3f74e2"></div>
<div class="abs" style="left:331px;top:787.6px;width:5px;height:35px;background:#3f74e2"></div>
<div class="pill" style="left:364px;top:747.2px;width:96.7px;height:38.5px;"><span style="font-size:17.5px;letter-spacing:2px;margin-right:-2px;position:relative;left:0px;top:1px">签到</span></div><div class="pill" style="left:467.4px;top:747.2px;width:95.3px;height:38.5px;"><span style="font-size:17.5px;letter-spacing:2px;margin-right:-2px;position:relative;left:0px;top:0px">考勤</span></div><div class="pill" style="left:569.5px;top:747.2px;width:96.5px;height:38.5px;"><span style="font-size:17.5px;letter-spacing:2px;margin-right:-2px;position:relative;left:-0.7px;top:0.5px">审批</span></div><div class="pill" style="left:364px;top:794px;width:134.5px;height:33.5px;"><span style="font-size:17.5px;letter-spacing:2px;margin-right:-2px;position:relative;left:1px;top:0px">智能人事</span></div><div class="pill" style="left:512.3px;top:794px;width:154.7px;height:33.5px;"><span style="font-size:17.5px;letter-spacing:2px;margin-right:-2px;position:relative;left:0px;top:0px">智能填表</span></div><div class="pill" style="left:364px;top:836px;width:76.8px;height:29.8px;"><span style="font-size:17.5px;letter-spacing:2px;margin-right:-2px;position:relative;left:1px;top:0.5px">宜搭</span></div><div class="pill" style="left:449px;top:836px;width:67.0px;height:29.8px;"><span style="font-size:17.5px;letter-spacing:2px;margin-right:-2px;position:relative;left:0px;top:0.5px">氚云</span></div><div class="pill" style="left:524.9px;top:836px;width:88.9px;height:29.8px;"><span style="font-size:17.5px;letter-spacing:2px;margin-right:-2px;position:relative;left:1.5px;top:0.5px">销帮帮</span></div><div class="pill" style="left:619.2px;top:836px;width:47.8px;height:29.8px;"><span style="font-size:16px;letter-spacing:0px;margin-right:-0px;position:relative;left:0px;top:0px"></span></div>
<svg class="abs" style="left:0;top:0" width="750" height="941"><circle cx="627.10" cy="851.7" r="1.3" fill="#fff"/><circle cx="633.16" cy="851.7" r="1.3" fill="#fff"/><circle cx="639.22" cy="851.7" r="1.3" fill="#fff"/><circle cx="645.28" cy="851.7" r="1.3" fill="#fff"/><circle cx="651.34" cy="851.7" r="1.3" fill="#fff"/><circle cx="657.40" cy="851.7" r="1.3" fill="#fff"/></svg>

</body></html>
